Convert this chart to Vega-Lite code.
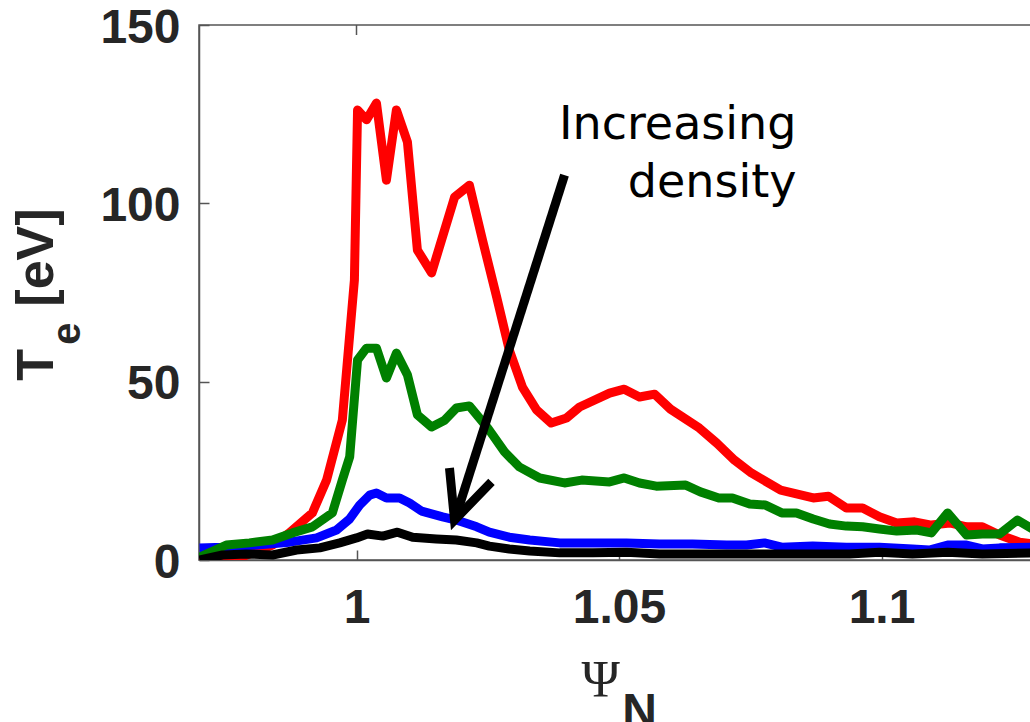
{
  "$schema": "https://vega.github.io/schema/vega-lite/v6.json",
  "width": 840,
  "height": 535,
  "autosize": "none",
  "padding": {"left": 199, "top": 25, "right": 0, "bottom": 162},
  "background": "white",
  "config": {
    "view": {"stroke": "#555555", "strokeWidth": 1.5},
    "axis": {
      "grid": false,
      "domainColor": "#555555",
      "domainWidth": 1.5,
      "tickColor": "#555555",
      "tickWidth": 1.5,
      "tickSize": -10,
      "labelFont": "Liberation Sans",
      "labelFontSize": 48,
      "labelFontWeight": "bold",
      "labelColor": "#262626",
      "labelFlush": false,
      "labelOverlap": false
    }
  },
  "datasets": {
    "te": [
      {"series": "density 1", "psi": 0.9701, "te": 0},
      {"series": "density 1", "psi": 0.9777, "te": 0.6},
      {"series": "density 1", "psi": 0.9840, "te": 4.2},
      {"series": "density 1", "psi": 0.9872, "te": 7.6},
      {"series": "density 1", "psi": 0.9916, "te": 13.2},
      {"series": "density 1", "psi": 0.9943, "te": 22.4},
      {"series": "density 1", "psi": 0.9973, "te": 39.2},
      {"series": "density 1", "psi": 0.9996, "te": 78.5},
      {"series": "density 1", "psi": 1.0002, "te": 126.2},
      {"series": "density 1", "psi": 1.0019, "te": 123.4},
      {"series": "density 1", "psi": 1.0038, "te": 128.1},
      {"series": "density 1", "psi": 1.0057, "te": 106.5},
      {"series": "density 1", "psi": 1.0076, "te": 126.2},
      {"series": "density 1", "psi": 1.0097, "te": 117.2},
      {"series": "density 1", "psi": 1.0116, "te": 86.9},
      {"series": "density 1", "psi": 1.0143, "te": 80.5},
      {"series": "density 1", "psi": 1.0187, "te": 101.8},
      {"series": "density 1", "psi": 1.0215, "te": 105.1},
      {"series": "density 1", "psi": 1.0240, "te": 89.7},
      {"series": "density 1", "psi": 1.0267, "te": 73.7},
      {"series": "density 1", "psi": 1.0291, "te": 58.9},
      {"series": "density 1", "psi": 1.0316, "te": 48.5},
      {"series": "density 1", "psi": 1.0343, "te": 42.1},
      {"series": "density 1", "psi": 1.0371, "te": 38.4},
      {"series": "density 1", "psi": 1.0400, "te": 39.8},
      {"series": "density 1", "psi": 1.0425, "te": 42.9},
      {"series": "density 1", "psi": 1.0482, "te": 46.8},
      {"series": "density 1", "psi": 1.0510, "te": 47.9},
      {"series": "density 1", "psi": 1.0539, "te": 45.7},
      {"series": "density 1", "psi": 1.0568, "te": 46.5},
      {"series": "density 1", "psi": 1.0598, "te": 42.3},
      {"series": "density 1", "psi": 1.0653, "te": 37.0},
      {"series": "density 1", "psi": 1.0686, "te": 32.8},
      {"series": "density 1", "psi": 1.0720, "te": 28.0},
      {"series": "density 1", "psi": 1.0752, "te": 24.4},
      {"series": "density 1", "psi": 1.0808, "te": 19.6},
      {"series": "density 1", "psi": 1.0840, "te": 18.5},
      {"series": "density 1", "psi": 1.0870, "te": 17.4},
      {"series": "density 1", "psi": 1.0899, "te": 17.9},
      {"series": "density 1", "psi": 1.0933, "te": 14.6},
      {"series": "density 1", "psi": 1.0964, "te": 14.6},
      {"series": "density 1", "psi": 1.0996, "te": 12.1},
      {"series": "density 1", "psi": 1.1029, "te": 10.4},
      {"series": "density 1", "psi": 1.1063, "te": 10.7},
      {"series": "density 1", "psi": 1.1095, "te": 9.8},
      {"series": "density 1", "psi": 1.1130, "te": 10.4},
      {"series": "density 1", "psi": 1.1162, "te": 9.3},
      {"series": "density 1", "psi": 1.1192, "te": 9.3},
      {"series": "density 1", "psi": 1.1225, "te": 7.0},
      {"series": "density 1", "psi": 1.1263, "te": 5.0},
      {"series": "density 1", "psi": 1.1291, "te": 4.5},

      {"series": "density 3", "psi": 0.9701, "te": 3.4},
      {"series": "density 3", "psi": 0.9745, "te": 3.6},
      {"series": "density 3", "psi": 0.9810, "te": 4.2},
      {"series": "density 3", "psi": 0.9872, "te": 5.0},
      {"series": "density 3", "psi": 0.9924, "te": 6.2},
      {"series": "density 3", "psi": 0.9962, "te": 8.4},
      {"series": "density 3", "psi": 0.9987, "te": 11.5},
      {"series": "density 3", "psi": 1.0006, "te": 15.4},
      {"series": "density 3", "psi": 1.0025, "te": 18.2},
      {"series": "density 3", "psi": 1.0038, "te": 18.8},
      {"series": "density 3", "psi": 1.0057, "te": 17.4},
      {"series": "density 3", "psi": 1.0082, "te": 17.4},
      {"series": "density 3", "psi": 1.0101, "te": 16.0},
      {"series": "density 3", "psi": 1.0124, "te": 13.7},
      {"series": "density 3", "psi": 1.0164, "te": 12.1},
      {"series": "density 3", "psi": 1.0190, "te": 11.2},
      {"series": "density 3", "psi": 1.0229, "te": 9.3},
      {"series": "density 3", "psi": 1.0253, "te": 7.8},
      {"series": "density 3", "psi": 1.0291, "te": 6.4},
      {"series": "density 3", "psi": 1.0330, "te": 5.6},
      {"series": "density 3", "psi": 1.0387, "te": 4.8},
      {"series": "density 3", "psi": 1.0450, "te": 4.8},
      {"series": "density 3", "psi": 1.0514, "te": 4.8},
      {"series": "density 3", "psi": 1.0577, "te": 4.5},
      {"series": "density 3", "psi": 1.0640, "te": 4.5},
      {"series": "density 3", "psi": 1.0705, "te": 4.2},
      {"series": "density 3", "psi": 1.0743, "te": 4.2},
      {"series": "density 3", "psi": 1.0777, "te": 4.8},
      {"series": "density 3", "psi": 1.0810, "te": 3.6},
      {"series": "density 3", "psi": 1.0869, "te": 3.9},
      {"series": "density 3", "psi": 1.0933, "te": 3.6},
      {"series": "density 3", "psi": 1.0996, "te": 3.6},
      {"series": "density 3", "psi": 1.1059, "te": 3.1},
      {"series": "density 3", "psi": 1.1091, "te": 2.8},
      {"series": "density 3", "psi": 1.1126, "te": 4.2},
      {"series": "density 3", "psi": 1.1162, "te": 4.2},
      {"series": "density 3", "psi": 1.1192, "te": 3.1},
      {"series": "density 3", "psi": 1.1225, "te": 3.4},
      {"series": "density 3", "psi": 1.1291, "te": 3.6},

      {"series": "density 2", "psi": 0.9701, "te": 0.8},
      {"series": "density 2", "psi": 0.9752, "te": 4.2},
      {"series": "density 2", "psi": 0.9796, "te": 4.8},
      {"series": "density 2", "psi": 0.9840, "te": 5.6},
      {"series": "density 2", "psi": 0.9878, "te": 7.6},
      {"series": "density 2", "psi": 0.9916, "te": 9.3},
      {"series": "density 2", "psi": 0.9954, "te": 13.2},
      {"series": "density 2", "psi": 0.9973, "te": 22.4},
      {"series": "density 2", "psi": 0.9987, "te": 28.9},
      {"series": "density 2", "psi": 1.0002, "te": 56.1},
      {"series": "density 2", "psi": 1.0019, "te": 59.4},
      {"series": "density 2", "psi": 1.0038, "te": 59.4},
      {"series": "density 2", "psi": 1.0057, "te": 51.0},
      {"series": "density 2", "psi": 1.0076, "te": 58.0},
      {"series": "density 2", "psi": 1.0097, "te": 51.9},
      {"series": "density 2", "psi": 1.0116, "te": 40.7},
      {"series": "density 2", "psi": 1.0143, "te": 37.3},
      {"series": "density 2", "psi": 1.0168, "te": 39.2},
      {"series": "density 2", "psi": 1.0190, "te": 42.6},
      {"series": "density 2", "psi": 1.0215, "te": 43.2},
      {"series": "density 2", "psi": 1.0250, "te": 37.0},
      {"series": "density 2", "psi": 1.0282, "te": 30.3},
      {"series": "density 2", "psi": 1.0310, "te": 26.1},
      {"series": "density 2", "psi": 1.0349, "te": 23.0},
      {"series": "density 2", "psi": 1.0396, "te": 21.6},
      {"series": "density 2", "psi": 1.0429, "te": 22.4},
      {"series": "density 2", "psi": 1.0482, "te": 21.9},
      {"series": "density 2", "psi": 1.0510, "te": 23.0},
      {"series": "density 2", "psi": 1.0539, "te": 21.6},
      {"series": "density 2", "psi": 1.0571, "te": 20.7},
      {"series": "density 2", "psi": 1.0627, "te": 21.0},
      {"series": "density 2", "psi": 1.0655, "te": 19.1},
      {"series": "density 2", "psi": 1.0690, "te": 17.4},
      {"series": "density 2", "psi": 1.0716, "te": 17.4},
      {"series": "density 2", "psi": 1.0749, "te": 15.7},
      {"series": "density 2", "psi": 1.0779, "te": 15.4},
      {"series": "density 2", "psi": 1.0810, "te": 13.2},
      {"series": "density 2", "psi": 1.0838, "te": 13.2},
      {"series": "density 2", "psi": 1.0870, "te": 11.5},
      {"series": "density 2", "psi": 1.0901, "te": 10.1},
      {"series": "density 2", "psi": 1.0933, "te": 9.5},
      {"series": "density 2", "psi": 1.0964, "te": 9.3},
      {"series": "density 2", "psi": 1.0996, "te": 8.7},
      {"series": "density 2", "psi": 1.1029, "te": 8.1},
      {"series": "density 2", "psi": 1.1067, "te": 8.4},
      {"series": "density 2", "psi": 1.1095, "te": 7.6},
      {"series": "density 2", "psi": 1.1126, "te": 13.2},
      {"series": "density 2", "psi": 1.1162, "te": 7.0},
      {"series": "density 2", "psi": 1.1192, "te": 7.3},
      {"series": "density 2", "psi": 1.1225, "te": 7.3},
      {"series": "density 2", "psi": 1.1259, "te": 11.2},
      {"series": "density 2", "psi": 1.1291, "te": 8.4},

      {"series": "density 4", "psi": 0.9701, "te": 0},
      {"series": "density 4", "psi": 0.9745, "te": 1.4},
      {"series": "density 4", "psi": 0.9790, "te": 1.7},
      {"series": "density 4", "psi": 0.9840, "te": 1.4},
      {"series": "density 4", "psi": 0.9886, "te": 2.8},
      {"series": "density 4", "psi": 0.9930, "te": 3.4},
      {"series": "density 4", "psi": 0.9968, "te": 4.8},
      {"series": "density 4", "psi": 1.0000, "te": 6.2},
      {"series": "density 4", "psi": 1.0021, "te": 7.3},
      {"series": "density 4", "psi": 1.0050, "te": 6.7},
      {"series": "density 4", "psi": 1.0078, "te": 7.8},
      {"series": "density 4", "psi": 1.0107, "te": 6.4},
      {"series": "density 4", "psi": 1.0152, "te": 5.9},
      {"series": "density 4", "psi": 1.0190, "te": 5.6},
      {"series": "density 4", "psi": 1.0229, "te": 4.8},
      {"series": "density 4", "psi": 1.0253, "te": 3.9},
      {"series": "density 4", "psi": 1.0291, "te": 3.1},
      {"series": "density 4", "psi": 1.0330, "te": 2.5},
      {"series": "density 4", "psi": 1.0387, "te": 2.0},
      {"series": "density 4", "psi": 1.0450, "te": 2.0},
      {"series": "density 4", "psi": 1.0514, "te": 2.2},
      {"series": "density 4", "psi": 1.0577, "te": 1.7},
      {"series": "density 4", "psi": 1.0653, "te": 1.7},
      {"series": "density 4", "psi": 1.0749, "te": 1.7},
      {"series": "density 4", "psi": 1.0844, "te": 1.7},
      {"series": "density 4", "psi": 1.0939, "te": 1.7},
      {"series": "density 4", "psi": 1.0996, "te": 2.2},
      {"series": "density 4", "psi": 1.1059, "te": 1.7},
      {"series": "density 4", "psi": 1.1126, "te": 2.2},
      {"series": "density 4", "psi": 1.1192, "te": 1.7},
      {"series": "density 4", "psi": 1.1291, "te": 2.0}
    ],
    "arrow": [
      {"part": "shaft", "i": 0, "psi": 1.03962, "te": 107.9},
      {"part": "shaft", "i": 1, "psi": 1.01900, "te": 12.5},
      {"part": "head", "i": 0, "psi": 1.01771, "te": 25.8},
      {"part": "head", "i": 1, "psi": 1.01867, "te": 11.2},
      {"part": "head", "i": 2, "psi": 1.02571, "te": 21.9}
    ],
    "one": [{}]
  },
  "layer": [
    {
      "data": {"name": "te"},
      "mark": {"type": "line", "strokeWidth": 9, "strokeJoin": "round", "clip": true},
      "encoding": {
        "x": {"field": "psi", "type": "quantitative", "scale": {"domain": [0.97, 1.13], "nice": false, "zero": false},
              "axis": {"values": [1, 1.05, 1.1], "format": ".2~f", "title": null, "labelPadding": 34}},
        "y": {"field": "te", "type": "quantitative", "scale": {"domain": [0, 150], "nice": false, "zero": false},
              "axis": {"values": [0, 50, 100, 150], "format": "d", "title": null, "labelPadding": 29, "labelOffset": 3}},
        "color": {"field": "series", "type": "nominal",
                  "scale": {"domain": ["density 1", "density 2", "density 3", "density 4"], "range": ["#ff0000", "#008000", "#0000ff", "#000000"]},
                  "legend": null}
      }
    },
    {
      "data": {"name": "arrow"},
      "mark": {"type": "line", "strokeWidth": 9, "color": "#000000", "strokeJoin": "miter", "strokeCap": "butt"},
      "encoding": {
        "x": {"field": "psi", "type": "quantitative"},
        "y": {"field": "te", "type": "quantitative"},
        "detail": {"field": "part"},
        "order": {"field": "i"}
      }
    },
    {
      "data": {"name": "one"},
      "mark": {"type": "rule", "color": "#555555", "strokeWidth": 1.5},
      "encoding": {"x": {"datum": 1}, "y": {"datum": 150}, "y2": {"datum": 147.2}}
    },
    {
      "data": {"name": "one"},
      "mark": {"type": "text", "text": ["Increasing", "density"], "align": "right", "baseline": "alphabetic", "font": "DejaVu Sans", "fontSize": 46, "lineHeight": 58, "color": "#000000"},
      "encoding": {"x": {"datum": 1.0838}, "y": {"datum": 118.0}}
    },
    {
      "data": {"name": "one"},
      "mark": {"type": "text", "text": "Ψ", "align": "center", "baseline": "alphabetic", "font": "Liberation Serif", "fontSize": 52, "color": "#262626"},
      "encoding": {"x": {"datum": 1.0465}, "y": {"datum": -38.4}}
    },
    {
      "data": {"name": "one"},
      "mark": {"type": "text", "text": "N", "align": "center", "baseline": "alphabetic", "font": "Liberation Sans", "fontWeight": "bold", "fontSize": 48, "color": "#262626"},
      "encoding": {"x": {"datum": 1.0539}, "y": {"datum": -46.8}}
    },
    {
      "data": {"name": "one"},
      "mark": {"type": "text", "text": "T", "angle": 270, "align": "center", "baseline": "alphabetic", "font": "Liberation Sans", "fontWeight": "bold", "fontSize": 52, "color": "#262626"},
      "encoding": {"x": {"datum": 0.9421}, "y": {"datum": 54.7}}
    },
    {
      "data": {"name": "one"},
      "mark": {"type": "text", "text": "e", "angle": 270, "align": "center", "baseline": "alphabetic", "font": "Liberation Sans", "fontWeight": "bold", "fontSize": 40, "color": "#262626"},
      "encoding": {"x": {"datum": 0.94724}, "y": {"datum": 63.5}}
    },
    {
      "data": {"name": "one"},
      "mark": {"type": "text", "text": "[eV]", "angle": 270, "align": "center", "baseline": "alphabetic", "font": "Liberation Sans", "fontWeight": "bold", "fontSize": 52, "color": "#262626"},
      "encoding": {"x": {"datum": 0.9421}, "y": {"datum": 84.8}}
    }
  ]
}
